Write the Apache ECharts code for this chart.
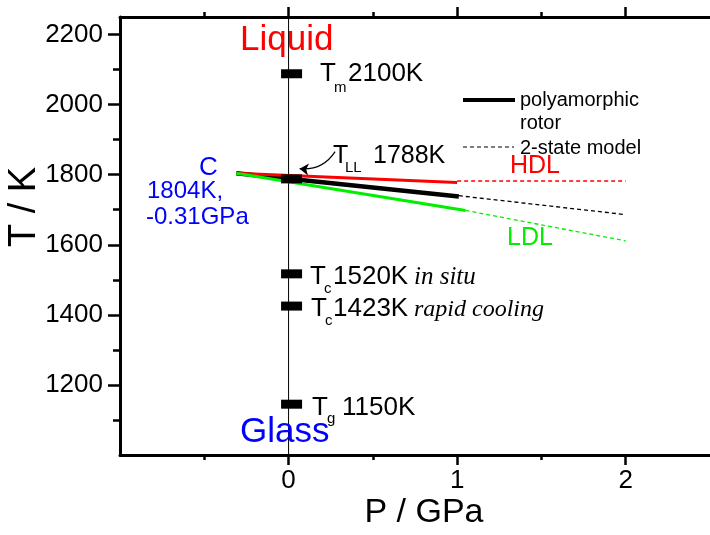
<!doctype html>
<html lang="en">
<head>
<meta charset="UTF-8">
<title>T-P diagram</title>
<script src="https://cdn.jsdelivr.net/npm/echarts@6/dist/echarts.min.js"></script>
<style>
    html, body { margin: 0; padding: 0; background: #fff; }
    #main { width: 710px; height: 535px; }
</style>
</head>
<body>
<div id="main"></div>
<script>
// axis ticks
var xMajor = [0, 1, 2];
var xMinor = [-0.5, 0.5, 1.5];
var yMajor = [1200, 1400, 1600, 1800, 2000, 2200];
var yMinor = [1100, 1300, 1500, 1700, 1900, 2100];

// data (P in GPa, T in K)
var criticalPoint = [-0.31, 1804];
var markerT = [2088, 1788, 1517, 1425, 1145];   // Tm, TLL, Tc in situ, Tc rapid cooling, Tg at P = 0
var rotorLine = [criticalPoint, [1.01, 1738]];
var rotorModel = [[1.01, 1740], [2.0, 1686]];
var hdlLine = [criticalPoint, [1.0, 1778]];
var hdlModel = [[1.0, 1782], [2.0, 1782]];
var ldlLine = [criticalPoint, [1.05, 1698]];
var ldlModel = [[1.05, 1698], [2.0, 1611]];
var arrowTLL = [[0.276, 1866], [0.065, 1817]];

var SANS = '"Liberation Sans", Arial, sans-serif';
var SERIF = '"Liberation Serif", "Times New Roman", serif';

var chart = echarts.init(document.getElementById('main'));

function seg(data, color, width, dashed) {
    return {
        type: 'line', data: data, symbol: 'none', silent: true,
        lineStyle: { color: color, width: width, type: dashed ? [4, 3] : 'solid' }
    };
}

// text placed by baseline
function txt(x, base, size, s, color, extra) {
    var st = {
        text: s, fill: color || '#000',
        font: (extra && extra.italic ? 'italic ' : '') + size + 'px ' + (extra && extra.serif ? SERIF : SANS),
        align: (extra && extra.align) || 'left', textAlign: (extra && extra.align) || 'left',
        verticalAlign: 'middle', textVerticalAlign: 'middle'
    };
    return { type: 'text', x: x, y: base - 0.35 * size, style: st, z: 100 };
}

var texts = [
    txt(240, 53, 35, 'Liquid', '#ff0000'),
    txt(240, 445, 35, 'Glass', '#0000ff'),
    txt(320, 83, 26, 'T'), txt(334, 93, 15, 'm'), txt(348, 83, 26, '2100K'),
    txt(333, 165, 25, 'T'), txt(345, 173, 15, 'LL'), txt(373, 165, 25, '1788K'),
    txt(310, 286, 26, 'T'), txt(324, 294, 15, 'c'), txt(333, 286, 26, '1520K'),
    txt(414, 286, 25, 'in situ', '#000', { italic: true, serif: true }),
    txt(311, 318, 26, 'T'), txt(325, 326, 15, 'c'), txt(333, 318, 26, '1423K'),
    txt(414, 318, 24, 'rapid cooling', '#000', { italic: true, serif: true }),
    txt(312, 417, 26, 'T'), txt(327, 424, 15, 'g'), txt(342, 417, 26, '1150K'),
    txt(199, 177, 26, 'C', '#0000ff'),
    txt(147, 200, 24, '1804K,', '#0000ff'),
    txt(146, 226, 24, '-0.31GPa', '#0000ff'),
    txt(510, 175, 25, 'HDL', '#ff0000'),
    txt(507, 247, 25, 'LDL', '#00ee00'),
    txt(520, 107, 20, 'polyamorphic'),
    txt(520, 130, 20, 'rotor'),
    txt(520, 155, 20, '2-state model'),
    txt(424, 525, 34, 'P / GPa', '#000', { align: 'center' }),
    { type: 'text', x: 25, y: 207, rotation: Math.PI / 2, z: 100,
      style: { text: 'T / K', font: '38px ' + SANS, fill: '#000', align: 'center', textAlign: 'center',
               verticalAlign: 'middle', textVerticalAlign: 'middle' } },
    { type: 'line', shape: { x1: 463, y1: 100, x2: 515, y2: 100 }, style: { stroke: '#000', lineWidth: 4 }, z: 100 },
    { type: 'line', shape: { x1: 463, y1: 147, x2: 514, y2: 147 }, style: { stroke: '#000', lineWidth: 1.2, lineDash: [4, 3] }, z: 100 }
];

var frame = { show: true, onZero: false, lineStyle: { color: '#000', width: 3 } };
var noLine = { show: false, onZero: false };
var plain = function (v) { return String(v); };

var option = {
    animation: false,
    grid: { left: 120, top: 17, width: 597, height: 438, containLabel: false },
    xAxis: [
        { type: 'value', position: 'bottom', min: -1, max: 2.5, axisLine: frame, splitLine: { show: false },
          axisTick: { customValues: xMajor, length: 10, lineStyle: { width: 2.5, color: '#000' } },
          axisLabel: { customValues: xMajor, formatter: plain, fontSize: 26, fontFamily: SANS, color: '#000', margin: 13 } },
        { type: 'value', position: 'bottom', min: -1, max: 2.5, axisLine: noLine, splitLine: { show: false },
          axisTick: { customValues: xMinor, length: 5, lineStyle: { width: 2.5, color: '#000' } },
          axisLabel: { show: false } },
        { type: 'value', position: 'top', min: -1, max: 2.5, axisLine: frame, splitLine: { show: false },
          axisTick: { customValues: xMajor, length: 10, lineStyle: { width: 2.5, color: '#000' } },
          axisLabel: { show: false } },
        { type: 'value', position: 'top', min: -1, max: 2.5, axisLine: noLine, splitLine: { show: false },
          axisTick: { customValues: xMinor, length: 5, lineStyle: { width: 2.5, color: '#000' } },
          axisLabel: { show: false } }
    ],
    yAxis: [
        { type: 'value', position: 'left', min: 1000, max: 2250, axisLine: frame, splitLine: { show: false },
          axisTick: { customValues: yMajor, length: 12, lineStyle: { width: 2.5, color: '#000' } },
          axisLabel: { customValues: yMajor, formatter: plain, fontSize: 26, fontFamily: SANS, color: '#000', margin: 17 } },
        { type: 'value', position: 'left', min: 1000, max: 2250, axisLine: noLine, splitLine: { show: false },
          axisTick: { customValues: yMinor, length: 7, lineStyle: { width: 2.5, color: '#000' } },
          axisLabel: { show: false } }
    ],
    series: [
        seg([[0, 1000], [0, 2250]], '#000', 1, false),
        seg(rotorLine, '#000', 4.5, false),
        seg(rotorModel, '#000', 1.3, true),
        seg(hdlLine, '#ff0000', 3, false),
        seg(hdlModel, '#ff0000', 1.3, true),
        seg(ldlLine, '#00ee00', 3, false),
        seg(ldlModel, '#00ee00', 1.3, true),
        {
            type: 'scatter', symbol: 'rect', symbolSize: [21, 9], symbolOffset: [3, 0], z: 5,
            itemStyle: { color: '#000', opacity: 1 },
            data: markerT.map(function (t) { return [0, t]; })
        },
        {
            type: 'lines', coordinateSystem: 'cartesian2d', z: 6,
            symbol: ['none', 'arrow'], symbolSize: 9,
            lineStyle: { color: '#000', width: 1.2, curveness: 0.3, opacity: 1 },
            data: [{ coords: arrowTLL }]
        }
    ],
    graphic: texts
};

chart.setOption(option);
</script>
</body>
</html>
